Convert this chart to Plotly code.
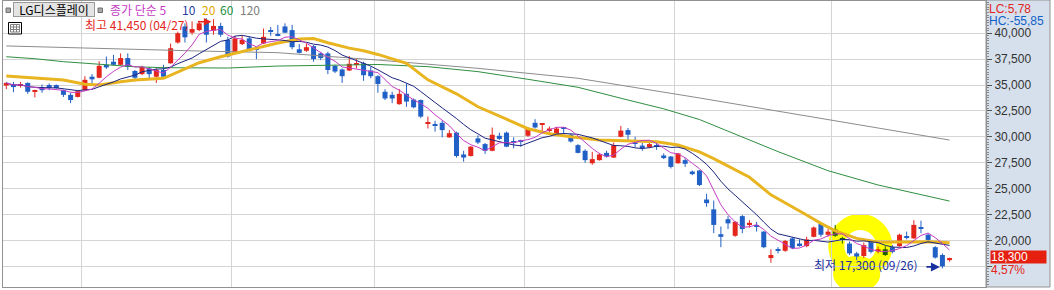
import numpy as np
import pandas as pd
import plotly.graph_objects as go

# ---------------- data ----------------
stock_name = "LG디스플레이"
high_date = "04/27"
low_date = "09/26"

opens = [34950, 35050, 34950, 35200, 34400, 34750, 35000, 35000, 34500, 34050,
         33850, 34500, 35800, 35700, 36950, 37250, 36950, 37600, 36350, 36050,
         36600, 35800, 36450, 37100, 39100, 40650, 40050, 40300, 41000, 40250,
         40700, 39350, 38100, 38950, 39500, 38450, 39000, 40250, 39850, 40650,
         40300, 38450, 38300, 38750, 38050, 38050, 36850, 36500, 36400, 36950,
         37100, 36400, 35850, 34350, 34050, 33150, 34150, 33600, 33550, 31300,
         31200, 31350, 29950, 30400, 28300, 28150, 29850, 29300, 28650, 30100,
         30400, 29550, 29700, 30100, 31350, 31150, 30650, 30250, 30900, 30200,
         29200, 28650, 27450, 27750, 28450, 28000, 30000, 30650, 29450, 29150,
         29000, 29100, 28200, 28100, 27450, 27750, 26650, 26750, 23950, 23000,
         20600, 22050, 20450, 22350, 21550, 21500, 20850, 18300, 19100, 19000,
         20200, 19700, 19450, 20350, 21600, 20550, 21050, 20200, 19700, 18750,
         18500, 19900, 18950, 19150, 19350, 19450, 20350, 20200, 21250, 20550,
         19350, 18600, 18100]
highs = [35250, 35300, 35300, 35250, 34550, 35050, 35150, 35050, 34550, 34250,
         34500, 35850, 36050, 37300, 37750, 37900, 38050, 38050, 36450, 36850,
         36750, 36600, 36950, 39000, 40150, 40950, 41150, 41200, 41450, 41350,
         41000, 39650, 39750, 39750, 39650, 38450, 40450, 40600, 40800, 40950,
         40800, 38950, 39000, 38850, 38200, 38200, 36950, 36600, 37800, 37500,
         37250, 36750, 35950, 34600, 34350, 34600, 35150, 33700, 33600, 31950,
         31550, 31550, 30650, 30500, 28650, 29100, 30150, 29400, 30900, 30400,
         30500, 29950, 29700, 30950, 31700, 31300, 31000, 30950, 30950, 30300,
         29300, 28800, 28550, 28450, 28650, 29450, 31050, 30850, 30000, 29400,
         29400, 29550, 28400, 28150, 28450, 27950, 26750, 26800, 24500, 23850,
         21350, 22350, 21850, 22450, 21950, 21800, 20900, 19150, 19350, 20050,
         20300, 20100, 20350, 21350, 21650, 21100, 21500, 20350, 19900, 18900,
         19800, 19950, 19400, 19450, 19550, 20650, 20850, 21950, 21900, 20700,
         19450, 18750, 18350]
lows = [34600, 34300, 34750, 34150, 33800, 34250, 34500, 34650, 33850, 33250,
        33800, 34400, 35000, 35650, 36550, 36900, 36900, 36450, 35500, 35950,
        35600, 35200, 35650, 37050, 39000, 39100, 39850, 40200, 39100, 39850,
        39650, 37650, 38050, 38850, 38300, 37500, 38950, 39750, 39700, 40000,
        38450, 38050, 38200, 37250, 37400, 36050, 36150, 35200, 36350, 36600,
        35400, 35650, 34250, 33550, 33250, 33100, 32900, 32750, 31800, 30800,
        30500, 29950, 29900, 28000, 27600, 28100, 29300, 28350, 28600, 29700,
        29000, 28900, 29050, 30000, 30800, 30350, 30400, 30200, 30250, 29450,
        28400, 27500, 27300, 27700, 28000, 27950, 29950, 29550, 29000, 28650,
        28900, 28750, 27850, 26950, 27400, 27100, 26300, 25250, 23250, 20700,
        19350, 21100, 20350, 20700, 21250, 20850, 19250, 17850, 18750, 18900,
        19150, 19400, 19350, 20300, 20350, 20350, 20350, 19700, 18600, 18100,
        18300, 18750, 18750, 18500, 18750, 19400, 20100, 20150, 20700, 19900,
        18250, 17300, 17950]
closes = [35200, 34800, 35050, 34350, 34500, 34500, 34700, 34700, 34050, 33550,
          34400, 35500, 35550, 36850, 36700, 36950, 37600, 36750, 35700, 36750,
          36050, 36450, 35800, 38550, 40000, 39600, 40400, 40950, 39850, 40700,
          39850, 37750, 39500, 39350, 38450, 38400, 39650, 40200, 39750, 40050,
          38650, 38100, 38650, 37500, 37600, 36450, 36300, 35850, 37050, 37050,
          35950, 35850, 35100, 33700, 33700, 34150, 33400, 32850, 31950, 31400,
          31050, 30650, 30350, 28150, 28000, 29050, 29450, 28650, 30200, 29800,
          29050, 29450, 29550, 30800, 30900, 31300, 30800, 30800, 30800, 29550,
          28450, 27750, 27850, 28300, 28100, 29200, 30600, 30200, 29350, 28900,
          29300, 29050, 27950, 27100, 28400, 27400, 26400, 25350, 23600, 21500,
          20350, 21650, 21800, 21100, 21700, 21350, 19350, 18600, 19000, 19950,
          19250, 19550, 20100, 21250, 20550, 20850, 20450, 20050, 18750, 18450,
          19550, 18900, 19150, 18600, 18900, 20550, 20300, 21500, 21150, 20050,
          18350, 17500, 18300]

# moving averages (index, price)
ma20_idx = [0, 4, 8, 11, 13, 16, 18, 22, 27, 30, 33, 35, 38, 41, 43, 45, 48, 50,
            52, 56, 59, 63, 66, 70, 73, 76, 79, 83, 88, 91, 94, 97, 99, 101, 104,
            107, 111, 112, 114, 116, 119, 122, 126, 129, 132]
ma20_val = [35870, 35700, 35480, 35070, 35000, 35320, 35480, 35650, 37150, 37730,
            38210, 38600, 39050, 39430, 39480, 39080, 38560, 38300, 37950, 37100,
            35500, 34150, 32900, 31700, 30780, 30300, 30000, 29700, 29620, 29530,
            29210, 28550, 27900, 27150, 26100, 24400, 22900, 22450, 21650, 20930,
            20200, 19850, 19850, 19880, 19780]
ma60_idx = [0, 4, 8, 13, 18, 22, 27, 31, 38, 45, 52, 59, 66, 73, 80, 87, 92, 97,
            105, 108, 115, 122, 132]
ma60_val = [37730, 37540, 37250, 37000, 36760, 36670, 36640, 36640, 36830, 36930,
            36980, 36770, 36290, 35550, 34780, 33550, 32700, 31670, 29400, 28570,
            26730, 25350, 23800]
ma120_idx = [0, 13, 27, 38, 52, 66, 80, 97, 124, 132]
ma120_val = [38770, 38520, 38280, 38120, 37410, 36610, 35650, 33750, 30660, 29690]

month_start_idx = [11, 32, 52, 73, 94, 116]
y_ticks = [17500, 20000, 22500, 25000, 27500, 30000, 32500, 35000, 37500, 40000]

# ---------------- styling ----------------
W, H = 1054, 290
ML, MR, MT, MB = 3, 68, 1, 3
PW, PH = W - ML - MR, H - MT - MB
X_RANGE = [-0.46, 137.1]
Y_RANGE = [15508, 43107]
X_PER_PX = (X_RANGE[1] - X_RANGE[0]) / PW
Y_PER_PX = (Y_RANGE[1] - Y_RANGE[0]) / PH

RED = "#e3261d"
BLUE = "#2160c6"
YELLOW = "#ffff00"
C5, C10, C20, C60, C120 = "#c43cc4", "#1c2480", "#e8b420", "#2f8f3f", "#8c8c8c"
GRID = "#d4d4d4"
BORDER = "#929292"
PANEL = "#d6e0ec"
KFONT = "Noto Sans CJK KR"
NFONT = "Liberation Sans"


def px(xp):
    return (xp - ML) / PW


def py(yp):
    return (MT + PH - yp) / PH


def multiply(c1, c2):
    a = [int(c1[i:i + 2], 16) for i in (1, 3, 5)]
    b = [int(c2[i:i + 2], 16) for i in (1, 3, 5)]
    return "#%02x%02x%02x" % tuple(u * v // 255 for u, v in zip(a, b))


n = len(closes)
idx = np.arange(n)
o, h, l, c = map(np.array, (opens, highs, lows, closes))

# highlighter stroke: centre-line ellipse (data units) and stroke width (px)
hl_x0, hl_x1 = 116.15, 122.87
hl_y0, hl_y1 = 17150, 21780
HL_W = 16
hl_cx, hl_cy = (hl_x0 + hl_x1) / 2, (hl_y0 + hl_y1) / 2
hl_rx, hl_ry = (hl_x1 - hl_x0) / 2, (hl_y1 - hl_y0) / 2
half_x, half_y = HL_W / 2 * X_PER_PX, HL_W / 2 * Y_PER_PX
# lower filled part of the highlighter stroke (under the low-price text)
hl_fill = (115.7, 122.3, 15000, 18500)


def ell(xv, yv, rx, ry):
    return ((xv - hl_cx) / rx) ** 2 + ((yv - hl_cy) / ry) ** 2


colors = []
for i in range(n):
    base_col = RED if c[i] >= o[i] else BLUE
    mid = (o[i] + c[i]) / 2
    in_outer = ell(i, mid, hl_rx + half_x, hl_ry + half_y) <= 1
    in_inner = ell(i, mid, hl_rx - half_x, hl_ry - half_y) <= 1
    if in_outer and not in_inner:
        base_col = multiply(base_col, YELLOW)
    colors.append(base_col)

body_base = np.minimum(o, c)
body_h = np.maximum(np.abs(c - o), 80)

ma5 = pd.Series(closes).rolling(5, min_periods=1).mean()
ma10 = pd.Series(closes).rolling(10, min_periods=1).mean()

fig = go.Figure()

# wicks, grouped by colour
for col in dict.fromkeys(colors):
    xs, ys = [], []
    for i in range(n):
        if colors[i] == col:
            xs += [i, i, None]
            ys += [lows[i], highs[i], None]
    fig.add_trace(go.Scatter(x=xs, y=ys, mode="lines", line=dict(color=col, width=1),
                             hoverinfo="skip", showlegend=False))

fig.add_trace(go.Bar(x=idx, y=body_h, base=body_base, width=0.7,
                     marker=dict(color=colors, line=dict(width=0)), showlegend=False))

fig.add_trace(go.Scatter(x=ma120_idx, y=ma120_val, mode="lines", line=dict(color=C120, width=1)))
fig.add_trace(go.Scatter(x=ma60_idx, y=ma60_val, mode="lines", line=dict(color=C60, width=1)))
fig.add_trace(go.Scatter(x=ma20_idx, y=ma20_val, mode="lines", line=dict(color=C20, width=3)))
fig.add_trace(go.Scatter(x=idx, y=ma10, mode="lines", line=dict(color=C10, width=1)))
fig.add_trace(go.Scatter(x=idx, y=ma5, mode="lines", line=dict(color=C5, width=1)))

shapes = [
    # right axis panel
    dict(type="rect", xref="paper", yref="paper", x0=1, x1=px(1050), y0=0, y1=py(0),
         fillcolor=PANEL, line=dict(color=BORDER, width=1), layer="below"),
    # highlighter ring + filled lower part
    dict(type="circle", xref="x", yref="y", x0=hl_fill[0], x1=hl_fill[1], y0=hl_fill[2],
         y1=hl_fill[3], fillcolor=YELLOW, line=dict(width=0), layer="below"),
    dict(type="circle", xref="x", yref="y", x0=hl_x0, x1=hl_x1, y0=hl_y0, y1=hl_y1,
         fillcolor="rgba(0,0,0,0)", line=dict(color=YELLOW, width=HL_W), layer="below"),
    # small square icons
    dict(type="rect", xref="paper", yref="paper", x0=px(6), x1=px(10.5), y0=py(12.5), y1=py(8),
         fillcolor="#a8a8a8", line=dict(color="#707070", width=1), layer="above"),
    dict(type="rect", xref="paper", yref="paper", x0=px(98), x1=px(102.5), y0=py(12.5), y1=py(8),
         fillcolor="#a8a8a8", line=dict(color="#707070", width=1), layer="above"),
    # table icon
    dict(type="rect", xref="paper", yref="paper", x0=px(8.5), x1=px(21.5), y0=py(34), y1=py(22.5),
         fillcolor="white", line=dict(color="black", width=1), layer="above"),
    dict(type="rect", xref="paper", yref="paper", x0=px(10.5), x1=px(19.5), y0=py(32), y1=py(24.5),
         fillcolor="white", line=dict(color="#808080", width=1), layer="above"),
]
for gx in (13.5, 16.5):
    shapes.append(dict(type="line", xref="paper", yref="paper", x0=px(gx), x1=px(gx),
                       y0=py(32), y1=py(24.5), line=dict(color="#808080", width=1), layer="above"))
for gy in (27, 29.5):
    shapes.append(dict(type="line", xref="paper", yref="paper", x0=px(10.5), x1=px(19.5),
                       y0=py(gy), y1=py(gy), line=dict(color="#808080", width=1), layer="above"))

last = closes[-1]
prev = closes[-2]
hi = max(highs)
lo = min(lows)
i_hi = highs.index(hi)
i_lo = lows.index(lo)
lc = (last / lo - 1) * 100
hc = (last / hi - 1) * 100
chg = (last / prev - 1) * 100


def kr_num(v):
    return f"{v:.2f}".replace(".", ",")


# the lowest tick label sits under the price box / change text in the reference
tick_text = [f"{v:,}" if v > 17500 else "" for v in y_ticks]


def legend_item(text, x, color):
    return dict(text=text, xref="paper", yref="paper", x=px(x), y=py(9.5), xanchor="left",
                yanchor="middle", showarrow=False, height=14, borderpad=0,
                font=dict(family=KFONT, size=12, color=color))


annotations = [
    dict(text=stock_name, xref="paper", yref="paper", x=px(13), y=py(10), xanchor="left",
         yanchor="middle", showarrow=False, bgcolor="#e4e4e4", bordercolor="#9a9a9a",
         borderwidth=1, borderpad=0, width=80, height=13,
         font=dict(family=KFONT, size=12, color="black")),
    legend_item("종가 단순 5", 109, C5),
    legend_item("10", 181, "#1f3aa6"),
    legend_item("20", 201, "#e0a800"),
    legend_item("60", 219, "#219040"),
    legend_item("120", 239, "#808080"),
    # high marker
    dict(text=f"최고 {hi:,} ({high_date})", x=i_hi, y=hi, xanchor="right", yanchor="middle",
         xshift=-16, yshift=-5.5, showarrow=False, height=14, borderpad=0,
         font=dict(family=KFONT, size=12, color=RED)),
    dict(text="", x=i_hi, y=hi, xshift=5, yshift=-3.5, showarrow=True, ax=-15, ay=0,
         arrowhead=2, arrowsize=1, arrowwidth=1.5, arrowcolor=RED),
    # low marker
    dict(text=f"최저 {lo:,} ({low_date})", x=i_lo, y=lo, xanchor="right", yanchor="middle",
         xshift=-22, yshift=3.5, showarrow=False, font=dict(family=KFONT, size=12, color="#1a2fa0")),
    dict(text="", x=i_lo, y=lo, xshift=-2.5, yshift=1.5, showarrow=True, ax=-15, ay=0,
         arrowhead=2, arrowsize=1, arrowwidth=1.8, arrowcolor="#1a2fa0"),
    # right panel texts
    dict(text=f"LC:{kr_num(lc)}", xref="paper", yref="paper", x=px(987), y=py(8.5),
         xanchor="left", yanchor="middle", showarrow=False,
         font=dict(family=NFONT, size=12, color=RED)),
    dict(text=f"HC:{kr_num(hc)}", xref="paper", yref="paper", x=px(987), y=py(20.5),
         xanchor="left", yanchor="middle", showarrow=False,
         font=dict(family=NFONT, size=12, color="#1160c8")),
    dict(text=f"{last:,}", xref="paper", yref="y", x=px(990), y=last, xanchor="left",
         yanchor="middle", yshift=1.5, showarrow=False, bgcolor="#e5200f", width=55, height=12,
         borderpad=0, align="left", font=dict(family=NFONT, size=12, color="white")),
    dict(text=f"{kr_num(chg)}%", xref="paper", yref="y", x=px(990), y=last, xanchor="left",
         yanchor="middle", yshift=-11, showarrow=False, width=55, height=11,
         borderpad=0, align="left", font=dict(family=NFONT, size=12, color=RED)),
]

fig.update_layout(
    width=W, height=H,
    margin=dict(l=ML, r=MR, t=MT, b=MB, pad=0),
    paper_bgcolor="white", plot_bgcolor="white",
    showlegend=False, hovermode=False,
    shapes=shapes, annotations=annotations,
    xaxis=dict(range=X_RANGE, tickmode="array",
               tickvals=[m - 0.5 for m in month_start_idx],
               showticklabels=False, ticks="", showgrid=True, gridcolor=GRID, gridwidth=1,
               showline=True, mirror=True, linecolor=BORDER, linewidth=1, zeroline=False),
    yaxis=dict(range=Y_RANGE, side="right", tickmode="array", tickvals=y_ticks,
               ticktext=tick_text, ticks="outside", ticklen=5, tickcolor="#555555",
               tickfont=dict(family=NFONT, size=12, color="#333333"),
               minor=dict(dtick=250, ticks="outside", ticklen=2, tickcolor="#8a8a8a", showgrid=False),
               showgrid=True, gridcolor=GRID, gridwidth=1,
               showline=True, mirror=True, linecolor=BORDER, linewidth=1, zeroline=False),
)

fig.write_html("out.html")
